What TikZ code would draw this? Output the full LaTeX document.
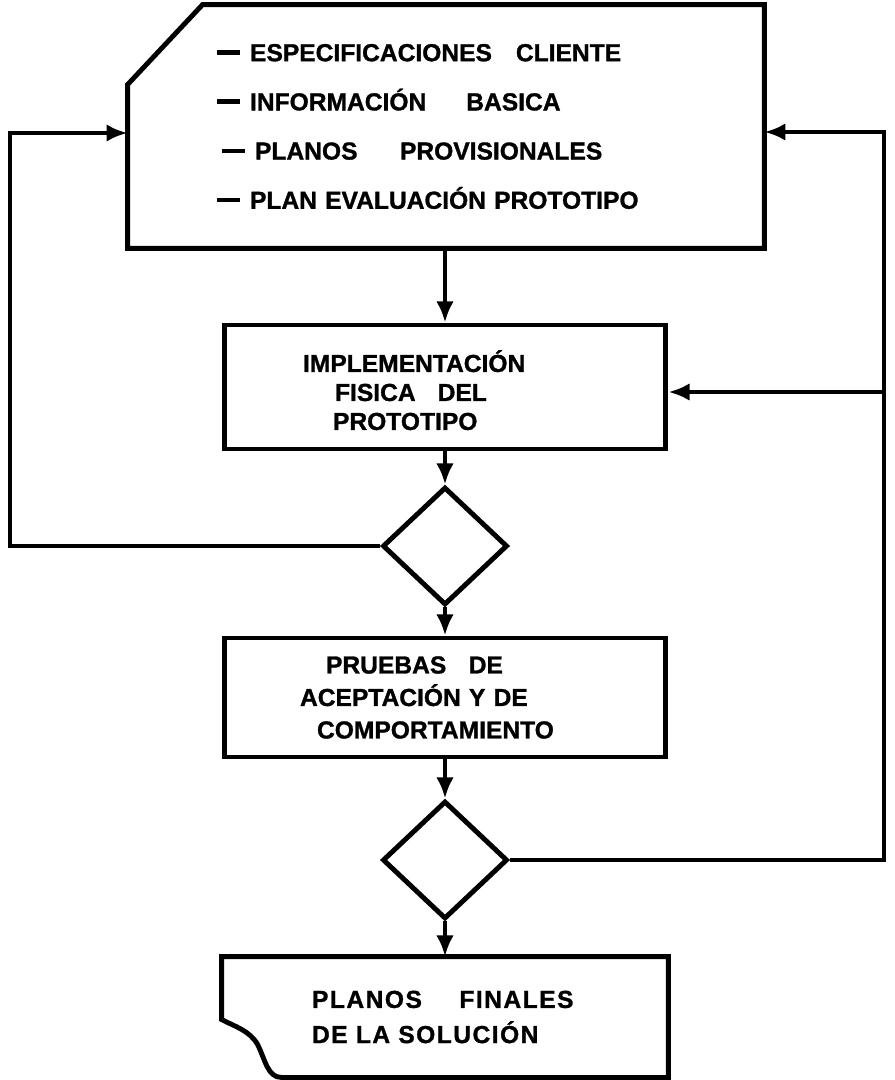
\documentclass[tikz,border=0pt]{standalone}
\usepackage{fontspec}
\setmainfont{Liberation Sans}[BoldFeatures={FakeBold=1.2}]
\newfontfamily\espaciada{Liberation Sans}[LetterSpace=6,BoldFeatures={FakeBold=1.2}]
\usetikzlibrary{
    arrows.meta,
    positioning,
    calc,
    shapes.geometric
}
\tikzset{
  linea/.style    = {line width=2.8pt},
  flecha/.style   = {linea, -{Latex[length=12pt,width=10pt]}},
  caja/.style     = {draw, linea, minimum width=8.84cm, align=left},
  decision/.style = {draw, linea, diamond, minimum width=2.5cm,
                     minimum height=2.36cm, inner sep=0pt}
}
% guion grueso al inicio de cada renglon
\newcommand{\guion}{\rule[3.6pt]{0.46cm}{2.6pt}\hspace{0.2cm}}

\begin{document}
\begin{tikzpicture}[x=0.02cm, y=-0.02cm]

\useasboundingbox (0,0) rectangle (894,1080);

% --- DATOS DE ENTRADA (tarjeta con esquina cortada) ---
\node[caja, draw=none, minimum width=12.64cm, minimum height=4.78cm,
      text width=9.16cm, font=\bfseries\fontsize{14}{28}\selectfont]
      (entrada) at (446,126.5) {
    \guion ESPECIFICACIONES\hspace{0.48cm}CLIENTE\\
    \guion INFORMACIÓN\hspace{0.8cm}BASICA\\
    \hspace*{0.1cm}\guion PLANOS\hspace{0.85cm}PROVISIONALES\\
    \guion PLAN EVALUACIÓN PROTOTIPO
};
\draw[linea] ($(entrada.north west)+(75,0)$) -- (entrada.north east)
    -- (entrada.south east) -- (entrada.south west)
    -- ($(entrada.north west)+(0,80)$) -- cycle;

% --- PROCESOS ---
\node[caja, minimum height=2.48cm, text width=5.68cm,
      font=\bfseries\fontsize{14}{16.5}\selectfont] (impl) at (445,387) {
    \rule{0pt}{16pt}IMPLEMENTACIÓN\\
    \hspace*{0.64cm}FISICA\hspace{0.44cm}DEL\\
    \hspace*{0.6cm}PROTOTIPO
};
\node[decision] (dec1) at (445,546) {};

\node[caja, minimum height=2.38cm, text width=5.8cm,
      font=\bfseries\fontsize{14}{18.5}\selectfont] (pruebas) at (445,697.5) {
    \hspace*{0.52cm}PRUEBAS\hspace{0.45cm}DE\\
    ACEPTACIÓN Y DE\\
    \hspace*{0.34cm}COMPORTAMIENTO
};
\node[decision] (dec2) at (445,860) {};

% --- PLANOS FINALES (documento) ---
\node[caja, draw=none, minimum height=2.32cm, text width=5.32cm,
      font=\espaciada\bfseries\fontsize{14}{20}\selectfont] (salida) at (445,1017) {
    \mbox{PLANOS\hspace{0.75cm}FINALES}\\
    DE LA SOLUCIÓN
};
\draw[linea] (salida.north west) -- (salida.north east) -- (salida.south east)
    -- ($(salida.south west)+(60,0)$)
    .. controls ($(salida.south west)+(46,0)$) and ($(salida.south west)+(44,-17)$)
    .. ($(salida.south west)+(36,-33)$)
    .. controls ($(salida.south west)+(28,-47)$) and ($(salida.south west)+(13,-51)$)
    .. ($(salida.south west)+(0,-58)$) -- cycle;

% --- FLUJO PRINCIPAL ---
\draw[flecha] (entrada.south -| impl.north) -- (impl.north);
\draw[flecha] (impl.south) -- (dec1.north);
\draw[flecha] (dec1.south) -- (pruebas.north);
\draw[flecha] (pruebas.south) -- (dec2.north);
\draw[flecha] (dec2.south) -- (salida.north);

% --- RETORNOS ---
\coordinate (izq) at (10,133);
\coordinate (der) at (884,132);
\coordinate (derI) at (884,392);
\draw[flecha] (dec1.west) -| (izq) -- (izq -| entrada.west);
\draw[flecha] (dec2.east) -| (der) -- (der -| entrada.east);
\draw[flecha] (derI) -- (derI -| impl.east);

\end{tikzpicture}
\end{document}
